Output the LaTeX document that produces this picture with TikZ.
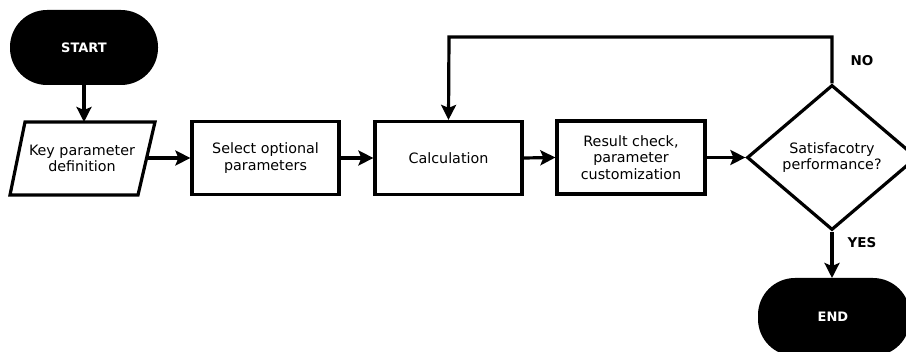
\documentclass[tikz,border=0pt]{standalone}
\usepackage{fontspec}
\setmainfont{DejaVu Sans}
\usetikzlibrary{shapes.geometric,arrows.meta}
\begin{document}
\begin{tikzpicture}[x=1pt,y=-1pt,
  txt/.style={align=center,font=\fontsize{14.3}{16.5}\selectfont},
  proc/.style={draw=black,line width=3.2pt,fill=white,txt},
  arr/.style={line width=3.2pt,-{Stealth[length=15pt,width=15pt,inset=3pt]}},
  termtxt/.style={text=white,font=\bfseries\fontsize{13}{15}\selectfont},
  lbl/.style={font=\bfseries\fontsize{13.5}{15}\selectfont}]
\useasboundingbox (0,0) rectangle (906,352);
% START
\fill[black,rounded corners=37pt] (10,10) rectangle (158,85);
\node[termtxt] (start) at (84,47.5) {START};
\coordinate (startb) at (84,85);
% parallelogram
\draw[line width=3.2pt,fill=white,line join=miter] (25,122) -- (155,122) -- (138,195) -- (10,195) -- cycle;
\node[txt] (key) at (82,158.5) {Key parameter\\definition};
\coordinate (keyt) at (84,122);
\coordinate (keyr) at (147,158);
% boxes
\node[proc,minimum width=147pt,minimum height=73pt] (sel) at (265.5,158) {Select optional\\parameters};
\node[proc,minimum width=147pt,minimum height=73pt] (calc) at (448.5,158) {Calculation};
\node[proc,minimum width=148pt,minimum height=73pt] (res) at (631,157.5) {Result check,\\parameter\\customization};
% diamond
\node[draw=black,line width=3.2pt,diamond,minimum width=170pt,minimum height=145pt,inner sep=0pt,txt] (dec) at (832,157.5) {Satisfacotry\\performance?};
% END
\fill[black,rounded corners=37pt] (758,278) rectangle (910,356);
\node[termtxt] (end) at (833,317) {END};
\coordinate (endt) at (832,278);
% connectors
\draw[arr] (startb) -- (keyt);
\draw[arr] (keyr) -- (sel.west);
\draw[arr] (sel.east) -- (calc.west);
\draw[arr] (calc.east) -- (res.west);
\draw[arr] (res.east) -- (dec.west);
\coordinate (c1) at (832,37);
\coordinate (c2) at (449,37);
\draw[arr] (dec.north) -- (c1) -- (c2) -- (calc.north);
\draw[arr] (dec.south) -- (endt);
\node[lbl] (no) at (862,61) {NO};
\node[lbl] (yes) at (862,243) {YES};
\end{tikzpicture}
\end{document}
